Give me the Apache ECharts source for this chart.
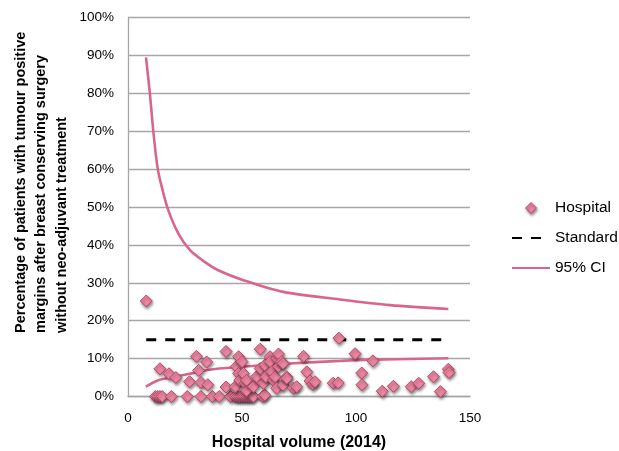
<!DOCTYPE html>
<html>
<head>
<meta charset="utf-8">
<script src="https://cdn.jsdelivr.net/npm/echarts@6/dist/echarts.min.js"></script>
<style>
  html, body { margin: 0; padding: 0; background: #fff; }
  #chart { width: 619px; height: 451px; }
</style>
</head>
<body>
<div id="chart"></div>
<script>
// Hospital volume (2014) and share of patients with tumour-positive margins (%)
const hospitalVolume = [
  8,
  12, 13, 14, 15, 19, 26, 32, 37, 40, 45, 47, 48, 49, 50, 51, 52, 53, 54, 55, 59, 60,
  14, 18, 21, 27, 30, 31, 32, 34.5, 35, 43, 43,
  47, 47.5, 48.5, 48.5, 49, 50, 50.6, 51.3, 52, 52, 55, 56.4, 58, 58, 59.4, 60, 60.5,
  62.3, 62.3, 63, 63.7, 64.5, 65.2, 65.2, 66, 66, 67.4, 68, 68, 69.6, 69.6, 72.5, 74,
  77, 78.4, 79.8, 81, 82, 90, 92.2, 92.5, 99.6, 102.5, 102.6, 107.4, 111.5, 116.4,
  124.2, 127.5, 134, 137, 140.5, 140.8
];
const hospitalPct = [
  25.2,
  0, 0, 0, 0, 0, 0, 0, 0, 0, 0, 0, 0, 0, 0, 0, 0, 0, 0, 0, 0, 0.4,
  7.3, 6, 5, 3.9, 10.6, 6.9, 3.7, 9.1, 3.1, 11.9, 2.5,
  2.6, 7.9, 10.5, 6.1, 4.3, 9.2, 6.1, 3.5, 1.5, 4.3, 2.6, 5.2, 12.5, 7.4, 3.5, 8.3, 5.2,
  10.5, 9.2, 6.5, 4.3, 5.2, 10.1, 2.2, 11.2, 7.9, 9.2, 8.7, 3, 5.2, 4.8, 2.2, 2.6,
  10.6, 6.5, 4.1, 3.2, 3.9, 3.5, 3.6, 15.4, 11.3, 6.2, 3.1, 9.4, 1.4, 2.7,
  2.6, 3.5, 5.2, 1.3, 7.2, 6.3
];

// Standard (target) level
const standardVolume = [8, 140];
const standardPct = [15, 15];

// 95% control limits
const ciUpperVolume = [7.9, 9.6, 11.1, 12.9, 14.8, 17.7, 22.1, 27.2, 33, 39.6, 50.6, 68.1, 93, 114.9, 140.5];
const ciUpperPct    = [89.5, 79.9, 70, 60.6, 55.3, 49.1, 43, 38.6, 35.8, 33.3, 30.7, 27.6, 25.6, 24.1, 23.1];
const ciLowerVolume = [7.8, 13.3, 20.6, 27.9, 35.2, 46.9, 71, 93, 99.6, 140.5];
const ciLowerPct    = [2.6, 4.3, 5.2, 6.1, 7, 7.7, 8.7, 9.4, 9.6, 10.1];

// Axis ticks
const xTicks = { min: 0, max: 150, step: 50 };
const yTicks = { min: 0, max: 100, step: 10 };

const zip = (xs, ys) => xs.map((x, i) => [x, ys[i]]);

const FONT = "'Liberation Sans', Arial, Helvetica, sans-serif";
const GRID_GREY = '#A6A6A6';
const CI_PINK = '#D9668A';
const DIAMOND_PATH = 'path://M5,0 L10,5 L5,10 L0,5 Z';

const markerStyle = {
  color: '#EE86A2',
  borderColor: '#B8496C',
  borderWidth: 1,
  shadowBlur: 3,
  shadowColor: 'rgba(0,0,0,0.45)',
  shadowOffsetX: 1,
  shadowOffsetY: 2,
  opacity: 1
};

const chart = echarts.init(document.getElementById('chart'), null, { renderer: 'canvas' });

chart.setOption({
  animation: false,
  backgroundColor: '#ffffff',
  textStyle: { fontFamily: FONT },
  grid: {
    left: 128, right: 149, top: 17.5, bottom: 54.5,
    containLabel: false,
    outerBoundsMode: 'none'
  },
  xAxis: {
    type: 'value',
    min: xTicks.min, max: xTicks.max, interval: xTicks.step,
    name: 'Hospital volume (2014)',
    nameLocation: 'middle',
    nameGap: 38,
    nameTextStyle: { fontFamily: FONT, fontSize: 16, fontWeight: 'bold', color: '#000' },
    axisLine: { show: true, lineStyle: { color: GRID_GREY, width: 1.3 } },
    axisTick: { show: false },
    axisLabel: { fontFamily: FONT, fontSize: 13.5, color: '#000', margin: 15 },
    splitLine: { show: false }
  },
  yAxis: {
    type: 'value',
    min: yTicks.min, max: yTicks.max, interval: yTicks.step,
    axisLine: { show: true, lineStyle: { color: GRID_GREY, width: 1.3 } },
    axisTick: { show: false },
    axisLabel: { fontFamily: FONT, fontSize: 13.5, color: '#000', margin: 14, formatter: '{value}%' },
    splitLine: { show: true, lineStyle: { color: GRID_GREY, width: 1.3 } }
  },
  legend: {
    orient: 'vertical',
    left: 506,
    top: 195,
    itemWidth: 38,
    itemHeight: 11,
    itemGap: 14,
    textStyle: { fontFamily: FONT, fontSize: 15.5, color: '#000' },
    data: [
      { name: 'Hospital', icon: DIAMOND_PATH, symbolKeepAspect: true, itemStyle: markerStyle },
      { name: 'Standard', itemStyle: { opacity: 0 } },
      { name: '95% CI', itemStyle: { opacity: 0 } }
    ]
  },
  graphic: [{
    type: 'text',
    x: 41,
    y: 333,
    rotation: Math.PI / 2,
    style: {
      text: 'Percentage of patients with tumour positive\nmargins after breast conserving surgery\nwithout neo-adjuvant treatment',
      font: "bold 14.5px 'Liberation Sans', Arial, sans-serif",
      fill: '#000',
      align: 'left',
      verticalAlign: 'middle',
      lineHeight: 20.5
    }
  }],
  series: [
    {
      name: '95% CI',
      type: 'line',
      data: zip(ciUpperVolume, ciUpperPct),
      symbol: 'none',
      smooth: 0.3,
      lineStyle: { color: CI_PINK, width: 2.6 },
      itemStyle: { color: CI_PINK },
      z: 2
    },
    {
      name: '95% CI',
      type: 'line',
      data: zip(ciLowerVolume, ciLowerPct),
      symbol: 'none',
      smooth: 0.3,
      lineStyle: { color: CI_PINK, width: 2.6 },
      itemStyle: { color: CI_PINK },
      z: 2
    },
    {
      name: 'Standard',
      type: 'line',
      data: zip(standardVolume, standardPct),
      symbol: 'none',
      lineStyle: { color: '#000', width: 3, type: [10, 9] },
      itemStyle: { color: '#000' },
      z: 3
    },
    {
      name: 'Hospital',
      type: 'scatter',
      data: zip(hospitalVolume, hospitalPct),
      symbol: 'diamond',
      symbolSize: 12,
      itemStyle: markerStyle,
      z: 4
    }
  ]
});
</script>
</body>
</html>
